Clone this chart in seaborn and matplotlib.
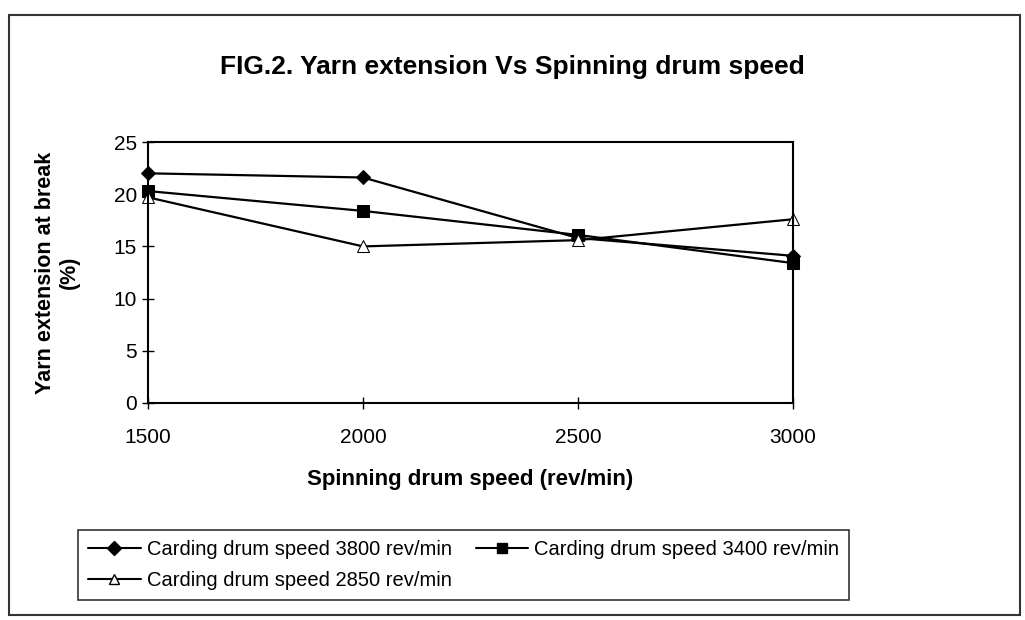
import matplotlib
matplotlib.use("Agg")
import matplotlib.pyplot as plt
import seaborn as sns
import pandas as pd
from matplotlib.patches import Rectangle
from matplotlib.lines import Line2D

speeds = [1500, 2000, 2500, 3000]
s3800 = [22.0, 21.6, 15.8, 14.1]
s3400 = [20.3, 18.4, 16.1, 13.4]
s2850 = [19.7, 15.0, 15.6, 17.6]
labels = ["Carding drum speed 3800 rev/min",
          "Carding drum speed 3400 rev/min",
          "Carding drum speed 2850 rev/min"]

df = pd.DataFrame({
    "speed": speeds * 3,
    "ext": s3800 + s3400 + s2850,
    "series": [labels[0]] * 4 + [labels[1]] * 4 + [labels[2]] * 4,
})

sns.set_theme(style="white")
plt.rcParams['font.family'] = ['Liberation Sans', 'DejaVu Sans']
plt.rcParams['text.color'] = 'black'

fig = plt.figure(figsize=(10.25, 6.2), dpi=100)
ax = fig.add_axes([148/1025, 1 - 403/620, (793-148)/1025, (403-142)/620])

sns.lineplot(data=df, x="speed", y="ext", hue="series", style="series",
             palette=["black"] * 3, markers=["D", "s", "^"], dashes=False,
             markersize=8, linewidth=1.6, ax=ax, legend=False)
for line, fc, ms in zip(ax.lines, ["black", "black", "white"], [7.5, 8.5, 9]):
    line.set_markerfacecolor(fc)
    line.set_markeredgecolor("black")
    line.set_markersize(ms)
    line.set_clip_on(False)

ax.set_xlim(1500, 3000)
ax.set_ylim(0, 25)
ax.set_xticks(speeds)
ax.set_yticks([0, 5, 10, 15, 20, 25])
ax.tick_params(axis="both", direction="inout", length=8, width=1, colors="black",
               labelsize=15, left=True, bottom=True)
ax.tick_params(axis="x", pad=14)
ax.tick_params(axis="y", pad=4)
for s in ax.spines.values():
    s.set_visible(True)
    s.set_color("black")
    s.set_linewidth(1.5)
ax.set_xlabel("Spinning drum speed (rev/min)", fontsize=16, fontweight="bold",
              labelpad=16, color="black")
ax.set_ylabel("Yarn extension at break\n(%)", fontsize=15.5, fontweight="bold",
              labelpad=24, color="black")
fig.text(512/1025, 1 - 67/620, "FIG.2. Yarn extension Vs Spinning drum speed",
         fontsize=19, fontweight="bold", ha="center", va="center", color="black")

handles = {}
for lab, m, fc in zip(labels, ["D", "s", "^"], ["black", "black", "white"]):
    handles[lab] = Line2D([0], [0], color="black", marker=m, markerfacecolor=fc,
                          markeredgecolor="black", markersize=7, linewidth=1.5, label=lab)
order = [labels[0], labels[2], labels[1]]
leg = fig.legend(handles=[handles[k] for k in order], ncol=2, loc="upper left",
                 bbox_to_anchor=(68/1025, 1 - 520/620), fontsize=14.5, frameon=True,
                 fancybox=False, edgecolor="black", handlelength=2.6, handletextpad=0.3,
                 columnspacing=1.2, borderpad=0.5, labelspacing=0.6)
leg.get_frame().set_linewidth(1.2)
for t in leg.get_texts():
    t.set_color("black")

fig.patches.append(Rectangle((9/1025, 1 - 615/620), (1020-9)/1025, (615-15)/620,
                             transform=fig.transFigure, fill=False, edgecolor="#333333",
                             linewidth=1.5))

fig.savefig("out.png", dpi=100)
